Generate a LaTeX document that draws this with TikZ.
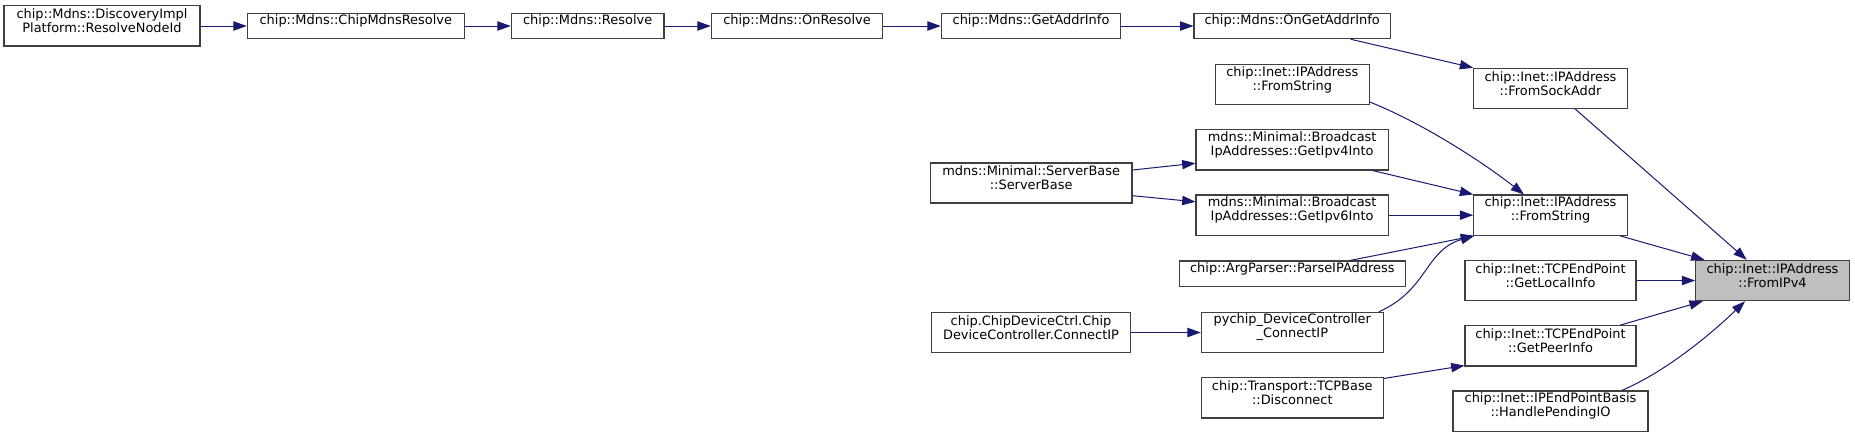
\documentclass[tikz,border=0pt]{standalone}
\usepackage{fontspec}
\setmainfont{DejaVu Sans}
\usetikzlibrary{arrows.meta,fit,calc}
\definecolor{edgeblue}{RGB}{25,25,112}
\definecolor{boxline}{RGB}{64,64,64}
\definecolor{hilite}{RGB}{191,191,191}
\tikzset{
  bx/.style={draw=boxline, line width=0.8pt, inner sep=0pt, align=center,
    font=\fontsize{9.7}{10.5}\selectfont},
  edge/.style={draw=edgeblue, line width=0.75pt,
    -{Triangle[length=10pt,width=7pt]}}
}
\begin{document}
\begin{tikzpicture}[x=0.75pt,y=-0.75pt]
\useasboundingbox (0,0) rectangle (1855,437);
\node[bx, fit={(4,5.3)(200,46)}] (A) {chip::Mdns::DiscoveryImpl\\Platform::ResolveNodeId};
\node[bx, fit={(247.3,13.3)(464.3,38.7)}] (B) {chip::Mdns::ChipMdnsResolve};
\node[bx, fit={(511.3,13.3)(664,38.7)}] (C) {chip::Mdns::Resolve};
\node[bx, fit={(711.3,13.3)(882.7,38.7)}] (D) {chip::Mdns::OnResolve};
\node[bx, fit={(941.3,13.3)(1120.7,38.7)}] (E) {chip::Mdns::GetAddrInfo};
\node[bx, fit={(1194,13.3)(1390.3,38.7)}] (F) {chip::Mdns::OnGetAddrInfo};
\node[bx, fit={(1473.7,68.3)(1627.3,108.3)}] (G) {chip::Inet::IPAddress\\::FromSockAddr};
\node[bx, fit={(1215.3,64.7)(1369.3,104.7)}] (H) {chip::Inet::IPAddress\\::FromString};
\node[bx, fit={(1196,129.7)(1388.3,170)}] (I) {mdns::Minimal::Broadcast\\IpAddresses::GetIpv4Into};
\node[bx, fit={(930.3,163)(1132,203)}] (J) {mdns::Minimal::ServerBase\\::ServerBase};
\node[bx, fit={(1196,195)(1388.3,235.3)}] (K) {mdns::Minimal::Broadcast\\IpAddresses::GetIpv6Into};
\node[bx, fit={(1473.7,195)(1627.3,235.3)}] (L) {chip::Inet::IPAddress\\::FromString};
\node[bx, fit={(1179.3,261)(1405.3,286.7)}] (M) {chip::ArgParser::ParseIPAddress};
\node[bx, fit={(1465,260.3)(1636,300.7)}] (N) {chip::Inet::TCPEndPoint\\::GetLocalInfo};
\node[bx, fill=hilite, fit={(1695.7,260.3)(1849.3,300.7)}] (O) {chip::Inet::IPAddress\\::FromIPv4};
\node[bx, fit={(1201.3,312.3)(1383.3,352.7)}] (P) {pychip\_DeviceController\\\_ConnectIP};
\node[bx, align=left, fit={(931.3,312.3)(1130.7,352.7)}] (Q) {chip.ChipDeviceCtrl.Chip\\DeviceController.ConnectIP};
\node[bx, fit={(1465,325.7)(1636,366)}] (R) {chip::Inet::TCPEndPoint\\::GetPeerInfo};
\node[bx, fit={(1201.3,377.7)(1383.3,418)}] (S) {chip::Transport::TCPBase\\::Disconnect};
\node[bx, fit={(1453,391)(1648,431.3)}] (T) {chip::Inet::IPEndPointBasis\\::HandlePendingIO};

\draw[edge] (A.east |- B.west) -- (B.west);
\draw[edge] (B) -- (C);
\draw[edge] (C) -- (D);
\draw[edge] (D) -- (E);
\draw[edge] (E) -- (F);
\draw[edge] ($(F.south)+(58.5,0)$) -- (G.north west);
\draw[edge] ($(G.south)+(24.5,0)$) -- ($(O.north)+(-25.8,0)$);
\draw[edge] ($(H.east)+(0,17.3)$) .. controls (1420,122) and (1480,160) .. ($(L.north)+(-26.5,0)$);
\draw[edge] ($(I.south)+(80.5,0)$) -- (L.north west);
\draw[edge] (K) -- (L);
\draw[edge] ($(M.north)+(57.7,0)$) -- ($(L.south west)+(1,0)$);
\draw[edge] ($(P.north east)+(-5,0)$) .. controls (1428,290) and (1425,250) .. ($(L.south west)+(1,0)$);
\draw[edge] ($(L.south)+(69.5,0)$) -- ($(O.north west)+(9.3,0)$);
\draw[edge] (N) -- (O);
\draw[edge] ($(R.north)+(69.5,0)$) -- ($(O.south west)+(7.6,0)$);
\draw[edge] ($(S.north east)+(0,1.3)$) -- ($(R.south west)+(0,-1)$);
\draw[edge] ($(T.north)+(71.2,0)$) .. controls (1665,372) and (1710,335) .. ($(O.south)+(-27.5,0)$);
\draw[edge] ($(J.east)+(0,-13)$) -- ($(I.south west)+(0,-7.3)$);
\draw[edge] ($(J.east)+(0,12.7)$) -- ($(K.north west)+(0,7.3)$);
\draw[edge] (Q) -- (P);
\end{tikzpicture}
\end{document}
